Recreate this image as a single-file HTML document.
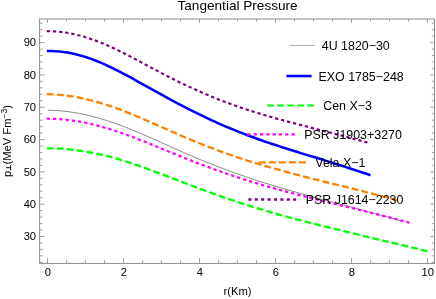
<!DOCTYPE html>
<html><head><meta charset="utf-8"><title>Tangential Pressure</title>
<style>
html,body{margin:0;padding:0;background:#fff;}
body{width:436px;height:299px;overflow:hidden;}
svg{display:block;will-change:transform;}
text{font-family:"Liberation Sans",sans-serif;fill:#000;}
</style></head><body>
<svg width="436" height="299" viewBox="0 0 436 299">
<rect x="0" y="0" width="436" height="299" fill="#fff"/>
<defs><clipPath id="c"><rect x="39.6" y="19.0" width="394.9" height="244.39999999999998"/></clipPath></defs>
<g fill="none" clip-path="url(#c)">
<path d="M47.96,110.25 L52.45,110.35 L56.94,110.57 L61.43,110.92 L65.92,111.38 L70.41,111.96 L74.91,112.66 L79.40,113.47 L83.89,114.39 L88.38,115.41 L92.87,116.53 L97.36,117.73 L101.86,119.02 L106.35,120.40 L110.84,121.86 L115.33,123.41 L119.82,125.05 L124.31,126.76 L128.81,128.54 L133.30,130.37 L137.79,132.24 L142.28,134.16 L146.77,136.11 L151.27,138.08 L155.76,140.08 L160.25,142.08 L164.74,144.09 L169.23,146.10 L173.72,148.10 L178.22,150.09 L182.71,152.07 L187.20,154.02 L191.69,155.95 L196.18,157.85 L200.67,159.72 L205.17,161.55 L209.66,163.36 L214.15,165.14 L218.64,166.89 L223.13,168.60 L227.62,170.29 L232.12,171.94 L236.61,173.55 L241.10,175.14 L245.59,176.69 L250.08,178.21 L254.57,179.70 L259.07,181.16 L263.56,182.59 L268.05,183.99 L272.54,185.37 L277.03,186.73 L281.52,188.06 L286.02,189.37 L290.51,190.67 L295.00,191.94 L299.49,193.20 L303.98,194.45 L308.47,195.69 L312.97,196.91 L317.46,198.13 L321.95,199.34 L326.44,200.54 L330.93,201.74 L335.42,202.94 L339.92,204.14 L344.41,205.34 L348.90,206.54 L353.39,207.74 L357.88,208.95 L362.37,210.16 L366.87,211.38 L371.36,212.60 L375.85,213.84 L380.34,215.08 L384.83,216.33 L389.32,217.59 L393.82,218.86 L398.31,220.15 L402.80,221.44" stroke="#606060" stroke-width="0.75"/>
<path d="M46.82,51.08 L50.91,51.07 L55.01,51.21 L59.11,51.50 L63.21,51.94 L67.30,52.54 L71.40,53.29 L75.50,54.17 L79.59,55.19 L83.69,56.37 L87.79,57.70 L91.89,59.15 L95.98,60.72 L100.08,62.40 L104.18,64.18 L108.27,66.04 L112.37,67.99 L116.47,70.02 L120.57,72.12 L124.66,74.28 L128.76,76.49 L132.86,78.74 L136.96,81.01 L141.05,83.29 L145.15,85.58 L149.25,87.88 L153.34,90.17 L157.44,92.45 L161.54,94.72 L165.64,96.97 L169.73,99.20 L173.83,101.39 L177.93,103.56 L182.03,105.70 L186.12,107.80 L190.22,109.88 L194.32,111.94 L198.41,113.96 L202.51,115.95 L206.61,117.91 L210.71,119.83 L214.80,121.71 L218.90,123.54 L223.00,125.33 L227.10,127.07 L231.19,128.77 L235.29,130.44 L239.39,132.07 L243.48,133.67 L247.58,135.23 L251.68,136.75 L255.78,138.26 L259.87,139.74 L263.97,141.19 L268.07,142.60 L272.17,143.97 L276.26,145.31 L280.36,146.63 L284.46,147.94 L288.55,149.25 L292.65,150.55 L296.75,151.83 L300.85,153.10 L304.94,154.36 L309.04,155.60 L313.14,156.84 L317.24,158.08 L321.33,159.34 L325.43,160.60 L329.53,161.89 L333.62,163.19 L337.72,164.51 L341.82,165.83 L345.92,167.16 L350.01,168.49 L354.11,169.81 L358.21,171.14 L362.31,172.48 L366.40,173.82 L370.50,175.17" stroke="#0000ff" stroke-width="2.55"/>
<path d="M46.82,148.29 L51.63,148.33 L56.45,148.47 L61.27,148.72 L66.09,149.08 L70.91,149.54 L75.73,150.11 L80.55,150.78 L85.37,151.55 L90.19,152.41 L95.00,153.34 L99.82,154.35 L104.64,155.45 L109.46,156.65 L114.28,157.96 L119.10,159.36 L123.92,160.84 L128.74,162.39 L133.55,164.00 L138.37,165.67 L143.19,167.37 L148.01,169.11 L152.83,170.89 L157.65,172.68 L162.47,174.50 L167.29,176.33 L172.10,178.17 L176.92,180.02 L181.74,181.86 L186.56,183.71 L191.38,185.54 L196.20,187.36 L201.02,189.15 L205.84,190.93 L210.65,192.68 L215.47,194.42 L220.29,196.12 L225.11,197.80 L229.93,199.44 L234.75,201.06 L239.57,202.64 L244.39,204.20 L249.20,205.73 L254.02,207.23 L258.84,208.71 L263.66,210.16 L268.48,211.58 L273.30,212.98 L278.12,214.34 L282.94,215.69 L287.76,217.00 L292.57,218.30 L297.39,219.57 L302.21,220.82 L307.03,222.05 L311.85,223.27 L316.67,224.47 L321.49,225.65 L326.31,226.82 L331.12,227.99 L335.94,229.15 L340.76,230.32 L345.58,231.51 L350.40,232.71 L355.22,233.91 L360.04,235.09 L364.86,236.27 L369.67,237.42 L374.49,238.55 L379.31,239.69 L384.13,240.82 L388.95,241.96 L393.77,243.10 L398.59,244.24 L403.41,245.39 L408.22,246.55 L413.04,247.71 L417.86,248.87 L422.68,250.05 L427.50,251.23" stroke="#00ff00" stroke-width="2.3" stroke-dasharray="6.800 3.169"/>
<path d="M46.82,118.72 L51.41,118.77 L56.00,118.94 L60.59,119.23 L65.19,119.64 L69.78,120.16 L74.37,120.80 L78.96,121.55 L83.56,122.40 L88.15,123.36 L92.74,124.41 L97.34,125.56 L101.93,126.79 L106.52,128.11 L111.11,129.51 L115.71,131.00 L120.30,132.55 L124.89,134.17 L129.48,135.84 L134.08,137.57 L138.67,139.34 L143.26,141.14 L147.86,142.98 L152.45,144.84 L157.04,146.72 L161.63,148.60 L166.23,150.49 L170.82,152.38 L175.41,154.26 L180.00,156.13 L184.60,157.98 L189.19,159.80 L193.78,161.60 L198.38,163.38 L202.97,165.12 L207.56,166.83 L212.15,168.52 L216.75,170.17 L221.34,171.80 L225.93,173.40 L230.52,174.96 L235.12,176.49 L239.71,178.00 L244.30,179.47 L248.90,180.91 L253.49,182.32 L258.08,183.70 L262.67,185.05 L267.27,186.38 L271.86,187.68 L276.45,188.96 L281.04,190.22 L285.64,191.46 L290.23,192.67 L294.82,193.88 L299.41,195.06 L304.01,196.23 L308.60,197.39 L313.19,198.54 L317.79,199.69 L322.38,200.82 L326.97,201.95 L331.56,203.08 L336.16,204.20 L340.75,205.32 L345.34,206.44 L349.93,207.56 L354.53,208.69 L359.12,209.82 L363.71,210.95 L368.31,212.09 L372.90,213.24 L377.49,214.39 L382.08,215.56 L386.68,216.73 L391.27,217.91 L395.86,219.10 L400.45,220.30 L405.05,221.51 L409.64,222.74" stroke="#ff00ff" stroke-width="2.25" stroke-dasharray="3.300 2.956"/>
<path d="M46.82,94.21 L51.25,94.31 L55.68,94.53 L60.12,94.87 L64.55,95.34 L68.99,95.91 L73.42,96.60 L77.85,97.39 L82.29,98.29 L86.72,99.28 L91.16,100.36 L95.59,101.54 L100.02,102.79 L104.46,104.13 L108.89,105.56 L113.33,107.07 L117.76,108.66 L122.19,110.33 L126.63,112.07 L131.06,113.86 L135.50,115.70 L139.93,117.58 L144.36,119.49 L148.80,121.43 L153.23,123.38 L157.67,125.34 L162.10,127.30 L166.53,129.27 L170.97,131.23 L175.40,133.17 L179.84,135.09 L184.27,137.00 L188.70,138.87 L193.14,140.72 L197.57,142.53 L202.01,144.30 L206.44,146.05 L210.87,147.76 L215.31,149.44 L219.74,151.08 L224.17,152.69 L228.61,154.27 L233.04,155.81 L237.48,157.31 L241.91,158.78 L246.34,160.22 L250.78,161.63 L255.21,163.00 L259.65,164.35 L264.08,165.67 L268.51,166.96 L272.95,168.22 L277.38,169.46 L281.82,170.69 L286.25,171.89 L290.68,173.07 L295.12,174.24 L299.55,175.39 L303.99,176.53 L308.42,177.66 L312.85,178.78 L317.29,179.89 L321.72,180.99 L326.16,182.10 L330.59,183.19 L335.02,184.29 L339.46,185.39 L343.89,186.48 L348.33,187.58 L352.76,188.69 L357.19,189.79 L361.63,190.90 L366.06,192.02 L370.50,193.15 L374.93,194.28 L379.36,195.42 L383.80,196.57 L388.23,197.73 L392.67,198.90 L397.10,200.08" stroke="#ff8000" stroke-width="2.3" stroke-dasharray="6.900 3.112"/>
<path d="M46.82,31.17 L50.87,31.21 L54.93,31.40 L58.99,31.73 L63.05,32.20 L67.11,32.81 L71.17,33.56 L75.23,34.44 L79.29,35.44 L83.35,36.57 L87.40,37.82 L91.46,39.17 L95.52,40.62 L99.58,42.16 L103.64,43.80 L107.70,45.53 L111.76,47.35 L115.82,49.25 L119.87,51.21 L123.93,53.24 L127.99,55.31 L132.05,57.42 L136.11,59.56 L140.17,61.72 L144.23,63.90 L148.29,66.07 L152.34,68.24 L156.40,70.40 L160.46,72.53 L164.52,74.65 L168.58,76.75 L172.64,78.81 L176.70,80.84 L180.76,82.82 L184.81,84.75 L188.87,86.64 L192.93,88.50 L196.99,90.32 L201.05,92.12 L205.11,93.88 L209.17,95.60 L213.23,97.27 L217.28,98.91 L221.34,100.50 L225.40,102.04 L229.46,103.55 L233.52,105.03 L237.58,106.47 L241.64,107.87 L245.70,109.22 L249.76,110.53 L253.81,111.82 L257.87,113.07 L261.93,114.29 L265.99,115.49 L270.05,116.66 L274.11,117.82 L278.17,118.95 L282.23,120.07 L286.28,121.17 L290.34,122.26 L294.40,123.34 L298.46,124.41 L302.52,125.47 L306.58,126.53 L310.64,127.58 L314.70,128.63 L318.75,129.67 L322.81,130.72 L326.87,131.77 L330.93,132.82 L334.99,133.88 L339.05,134.94 L343.11,136.00 L347.17,137.08 L351.22,138.15 L355.28,139.24 L359.34,140.34 L363.40,141.44 L367.46,142.55" stroke="#800080" stroke-width="2.15" stroke-dasharray="3.300 2.849"/>
</g>
<g fill="none">
<path d="M290,45.4 H315.1" stroke="#707070" stroke-width="0.6"/>
<path d="M286.4,76.05 H311.6" stroke="#0000ff" stroke-width="2.55"/>
<path d="M267,105.5 H314" stroke="#00ff00" stroke-width="2.1" stroke-dasharray="6.9 3.2"/>
<path d="M247.4,134.35 H295" stroke="#ff00ff" stroke-width="2.35" stroke-dasharray="3.2 3.1"/>
<path d="M258.9,162.4 H305.8" stroke="#ff8000" stroke-width="2.3" stroke-dasharray="6.9 3.1"/>
<path d="M248.4,199.5 H296.5" stroke="#800080" stroke-width="2.4" stroke-dasharray="3.0 3.4"/>
</g>
<g font-size="12.42">
<text x="321.8" y="49.5">4U 1820&#8722;30</text>
<text x="318.5" y="80.55">EXO 1785&#8722;248</text>
<text x="323.25" y="109.6">Cen X&#8722;3</text>
<text x="304.25" y="138.7">PSR J1903+3270</text>
<text x="315.3" y="167.0">Vela X&#8722;1</text>
<text x="305.75" y="203.8">PSR J1614&#8722;2230</text>
</g>
<rect x="39.6" y="19.0" width="394.9" height="244.39999999999998" fill="none" stroke="#8a8a8a" stroke-width="1"/>
<path d="M47.50,263.4 v-5.2 M47.50,19.0 v4.0 M66.50,263.4 v-3.1 M66.50,19.0 v2.6 M85.50,263.4 v-3.1 M85.50,19.0 v2.6 M104.50,263.4 v-3.1 M104.50,19.0 v2.6 M123.50,263.4 v-5.2 M123.50,19.0 v4.0 M142.50,263.4 v-3.1 M142.50,19.0 v2.6 M161.50,263.4 v-3.1 M161.50,19.0 v2.6 M180.50,263.4 v-3.1 M180.50,19.0 v2.6 M199.50,263.4 v-5.2 M199.50,19.0 v4.0 M218.50,263.4 v-3.1 M218.50,19.0 v2.6 M237.50,263.4 v-3.1 M237.50,19.0 v2.6 M256.50,263.4 v-3.1 M256.50,19.0 v2.6 M275.50,263.4 v-5.2 M275.50,19.0 v4.0 M294.50,263.4 v-3.1 M294.50,19.0 v2.6 M313.50,263.4 v-3.1 M313.50,19.0 v2.6 M332.50,263.4 v-3.1 M332.50,19.0 v2.6 M351.50,263.4 v-5.2 M351.50,19.0 v4.0 M370.50,263.4 v-3.1 M370.50,19.0 v2.6 M389.50,263.4 v-3.1 M389.50,19.0 v2.6 M408.50,263.4 v-3.1 M408.50,19.0 v2.6 M427.50,263.4 v-5.2 M427.50,19.0 v4.0 M39.6,262.36 h3.1 M434.5,262.36 h-2.6 M39.6,255.89 h3.1 M434.5,255.89 h-2.6 M39.6,249.43 h3.1 M434.5,249.43 h-2.6 M39.6,242.97 h3.1 M434.5,242.97 h-2.6 M39.6,236.50 h4.9 M434.5,236.50 h-4.3 M39.6,230.04 h3.1 M434.5,230.04 h-2.6 M39.6,223.58 h3.1 M434.5,223.58 h-2.6 M39.6,217.11 h3.1 M434.5,217.11 h-2.6 M39.6,210.65 h3.1 M434.5,210.65 h-2.6 M39.6,204.19 h4.9 M434.5,204.19 h-4.3 M39.6,197.72 h3.1 M434.5,197.72 h-2.6 M39.6,191.26 h3.1 M434.5,191.26 h-2.6 M39.6,184.79 h3.1 M434.5,184.79 h-2.6 M39.6,178.33 h3.1 M434.5,178.33 h-2.6 M39.6,171.87 h4.9 M434.5,171.87 h-4.3 M39.6,165.40 h3.1 M434.5,165.40 h-2.6 M39.6,158.94 h3.1 M434.5,158.94 h-2.6 M39.6,152.48 h3.1 M434.5,152.48 h-2.6 M39.6,146.01 h3.1 M434.5,146.01 h-2.6 M39.6,139.55 h4.9 M434.5,139.55 h-4.3 M39.6,133.09 h3.1 M434.5,133.09 h-2.6 M39.6,126.62 h3.1 M434.5,126.62 h-2.6 M39.6,120.16 h3.1 M434.5,120.16 h-2.6 M39.6,113.70 h3.1 M434.5,113.70 h-2.6 M39.6,107.23 h4.9 M434.5,107.23 h-4.3 M39.6,100.77 h3.1 M434.5,100.77 h-2.6 M39.6,94.31 h3.1 M434.5,94.31 h-2.6 M39.6,87.84 h3.1 M434.5,87.84 h-2.6 M39.6,81.38 h3.1 M434.5,81.38 h-2.6 M39.6,74.92 h4.9 M434.5,74.92 h-4.3 M39.6,68.45 h3.1 M434.5,68.45 h-2.6 M39.6,61.99 h3.1 M434.5,61.99 h-2.6 M39.6,55.53 h3.1 M434.5,55.53 h-2.6 M39.6,49.06 h3.1 M434.5,49.06 h-2.6 M39.6,42.60 h4.9 M434.5,42.60 h-4.3 M39.6,36.14 h3.1 M434.5,36.14 h-2.6 M39.6,29.67 h3.1 M434.5,29.67 h-2.6 M39.6,23.21 h3.1 M434.5,23.21 h-2.6" stroke="#8a8a8a" stroke-width="0.8" fill="none"/>
<text x="47.80" y="276.2" text-anchor="middle" font-size="11.2">0</text><text x="123.80" y="276.2" text-anchor="middle" font-size="11.2">2</text><text x="199.80" y="276.2" text-anchor="middle" font-size="11.2">4</text><text x="275.80" y="276.2" text-anchor="middle" font-size="11.2">6</text><text x="351.80" y="276.2" text-anchor="middle" font-size="11.2">8</text><text x="427.80" y="276.2" text-anchor="middle" font-size="11.2">10</text>
<text x="36.1" y="240.25" text-anchor="end" font-size="11.2">30</text><text x="36.1" y="207.94" text-anchor="end" font-size="11.2">40</text><text x="36.1" y="175.62" text-anchor="end" font-size="11.2">50</text><text x="36.1" y="143.30" text-anchor="end" font-size="11.2">60</text><text x="36.1" y="110.98" text-anchor="end" font-size="11.2">70</text><text x="36.1" y="78.67" text-anchor="end" font-size="11.2">80</text><text x="36.1" y="46.35" text-anchor="end" font-size="11.2">90</text>
<text x="237.6" y="10.25" text-anchor="middle" font-size="13.6">Tangential Pressure</text>
<text x="237.5" y="295.3" text-anchor="middle" font-size="11.2">r(Km)</text>
<g transform="translate(10.7,176.9) rotate(-90)" font-size="11.2">
<text x="0" y="0">p</text>
<path d="M6.5,-0.1 H11.9 M9.2,-0.1 V-4.8" stroke="#000" stroke-width="0.95" fill="none"/>
<text x="12.4" y="0">(MeV Fm</text>
<text x="58.5" y="-3.9" font-size="8.4">&#8722;3</text>
<text x="68.2" y="0">)</text>
</g>
</svg>
</body></html>
